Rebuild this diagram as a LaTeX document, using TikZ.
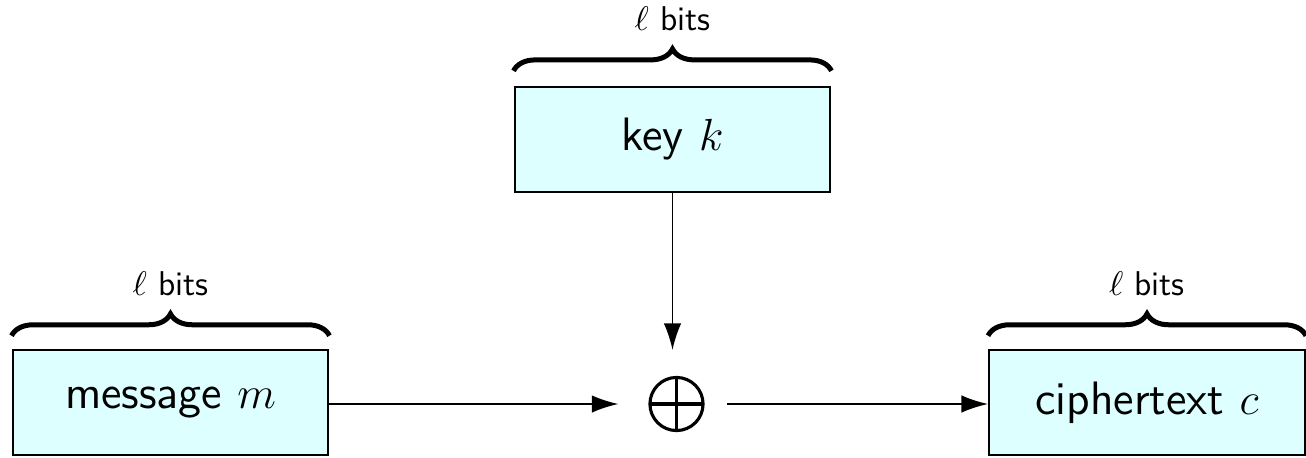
\documentclass[tikz,border=0pt]{standalone}
\usetikzlibrary{arrows.meta,positioning,decorations.pathreplacing}
\definecolor{boxfill}{RGB}{221,255,255}

\begin{document}
\begin{tikzpicture}[x=0.32pt,y=0.32pt,>={Latex[length=8.5pt,width=5.6pt]},
						block/.style={draw,line width=0.75pt,fill=boxfill,minimum width=101pt,minimum height=33.6pt,
							font=\sffamily\fontsize{15}{18}\selectfont},
						xorgate/.style={circle,draw,line width=1pt,minimum size=17pt,inner sep=0pt,
							path picture={\draw[line width=1pt] (path picture bounding box.north) -- (path picture bounding box.south)
								(path picture bounding box.west) -- (path picture bounding box.east);}},
						flow/.style={->,line width=0.55pt},
						bits/.style={decorate,decoration={brace,amplitude=7pt},line width=1.6pt},
						size/.style={font=\sffamily\fontsize{11}{13}\selectfont,inner sep=0pt}]

						\useasboundingbox (0,0) rectangle (1306,457);

						%%% Blocks
						\node [block] (key) at (672.5,317.5) {key $k$};
						\node [block] (msg) at (170.5,54.5) {message $m$};
						\node [block] (ctext) at (1147,54.5) {ciphertext $c$};
						\node [xorgate] (xor) at (676.5,53) {};

						%%% Lengths
						\draw [bits] ([yshift=4.8pt]key.north west) -- node[size,above=12pt] {$\ell$ bits} ([yshift=4.8pt]key.north east);
						\draw [bits] ([yshift=4.2pt]msg.north west) -- node[size,above=12pt] {$\ell$ bits} ([yshift=4.2pt]msg.north east);
						\draw [bits] ([yshift=4.2pt]ctext.north west) -- node[size,above=12pt] {$\ell$ bits} ([yshift=4.2pt]ctext.north east);

						%%% Connections
						\draw [flow,shorten >=9.6pt] (msg.east |- xor) -- (xor.west);
						\draw [flow,shorten <=7pt] (xor.east) -- (ctext.west |- xor);
						\draw [flow,shorten >=8.3pt] (key.south) -- (key.south |- xor.north);
					\end{tikzpicture}
\end{document}
